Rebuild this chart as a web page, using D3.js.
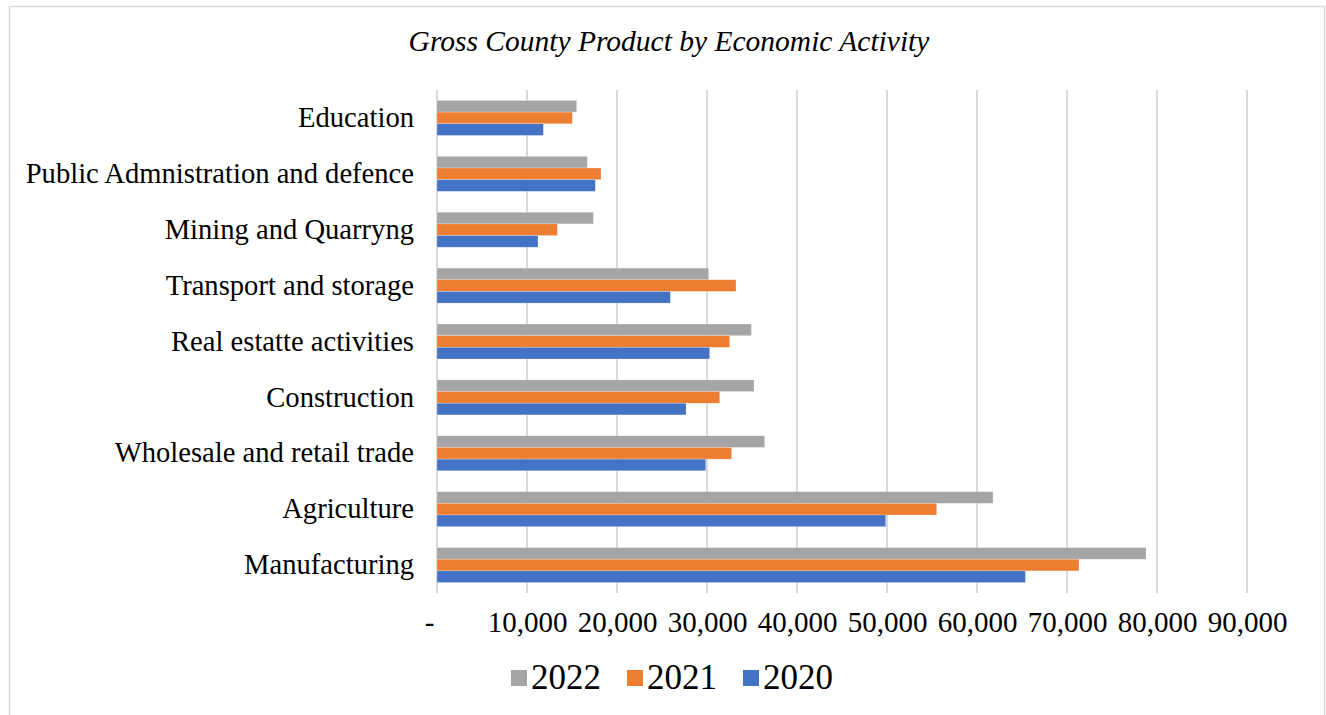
<!DOCTYPE html>
<html>
<head>
<meta charset="utf-8">
<script src="https://cdn.jsdelivr.net/npm/d3@7"></script>
<style>
    body { margin: 0; background: #fff; }
    svg { display: block; }
    text { font-family: "Liberation Serif", "DejaVu Serif", serif; fill: #000; }
</style>
</head>
<body>
<div id="chart"></div>
<script>
// categories top to bottom
var categories = ["Education", "Public Admnistration and defence", "Mining and Quarryng",
    "Transport and storage", "Real estatte activities", "Construction",
    "Wholesale and retail trade", "Agriculture", "Manufacturing"];
var years = ["2022", "2021", "2020"];
var values2022 = [15520, 16700, 17370, 30190, 34930, 35220, 36410, 61780, 78780];
var values2021 = [15040, 18220, 13370, 33220, 32520, 31410, 32740, 55520, 71330];
var values2020 = [11820, 17590, 11220, 25930, 30300, 27670, 29860, 49860, 65380];
var xTicks = [0, 10000, 20000, 30000, 40000, 50000, 60000, 70000, 80000, 90000];
var colors = {"2022": "#A5A5A5", "2021": "#ED7D31", "2020": "#4472C4"};

var seriesValues = {"2022": values2022, "2021": values2021, "2020": values2020};
var data = categories.map(function(c, i) {
    return {cat: c, vals: years.map(function(y) { return {year: y, value: seriesValues[y][i]}; })};
});

var W = 1326, H = 715;
var margin = {top: 90, left: 437, right: 79, bottom: 122};
var width = W - margin.left - margin.right,
    height = H - margin.top - margin.bottom;

var svg = d3.select("#chart")
    .append("svg")
    .attr("width", W)
    .attr("height", H);

// chart border
svg.append("rect")
    .attr("x", 9.5).attr("y", 6.5)
    .attr("width", 1315).attr("height", 720)
    .attr("fill", "none")
    .attr("stroke", "#d9d9d9")
    .attr("stroke-width", 1.5);

// title
svg.append("text")
    .attr("x", 669).attr("y", 51)
    .attr("text-anchor", "middle")
    .style("font-style", "italic")
    .style("font-size", "29.5px")
    .text("Gross County Product by Economic Activity");

var g = svg.append("g")
    .attr("transform", "translate(" + margin.left + "," + margin.top + ")");

var x = d3.scaleLinear()
    .domain([0, 90000])
    .range([0, width]);

var y = d3.scaleBand()
    .domain(categories)
    .range([0, height])
    .paddingInner(0.374)
    .paddingOuter(0.187);

var ySub = d3.scaleBand()
    .domain(years)
    .range([0, y.bandwidth()]);

// gridlines
g.selectAll(".grid")
    .data(xTicks)
    .enter()
    .append("line")
    .attr("x1", function(d) { return x(d); })
    .attr("x2", function(d) { return x(d); })
    .attr("y1", 0)
    .attr("y2", height)
    .attr("stroke", "#d9d9d9")
    .attr("stroke-width", 2);

// bars
var groups = g.selectAll(".grp")
    .data(data)
    .enter()
    .append("g")
    .attr("transform", function(d) { return "translate(0," + y(d.cat) + ")"; });

groups.selectAll("rect")
    .data(function(d) { return d.vals; })
    .enter()
    .append("rect")
    .attr("x", x(0))
    .attr("y", function(d) { return ySub(d.year); })
    .attr("width", function(d) { return x(d.value) - x(0); })
    .attr("height", ySub.bandwidth())
    .attr("fill", function(d) { return colors[d.year]; })
    .attr("stroke", "#fff")
    .attr("stroke-opacity", 0.4)
    .attr("stroke-width", 0.6);

// category axis
var yAxis = g.append("g")
    .call(d3.axisLeft(y).tickSize(0).tickPadding(23));
yAxis.select(".domain").remove();
yAxis.selectAll("text")
    .style("font-family", "Liberation Serif, serif")
    .style("font-size", "28.6px")
    .attr("fill", "#000");

// value axis
var xAxis = g.append("g")
    .attr("transform", "translate(0," + height + ")")
    .call(d3.axisBottom(x)
        .tickValues(xTicks)
        .tickSize(0)
        .tickPadding(18)
        .tickFormat(function(d) { return d === 0 ? "-" : d3.format(",")(d); }));
xAxis.select(".domain").remove();
xAxis.selectAll("text")
    .style("font-family", "Liberation Serif, serif")
    .style("font-size", "29px")
    .attr("fill", "#000")
    .attr("dx", function(d) { return d === 0 ? -8 : 0; });

// legend
var legendX = [511, 627, 743];
var legend = svg.append("g");
var items = legend.selectAll(".item")
    .data(years)
    .enter()
    .append("g")
    .attr("transform", function(d, i) { return "translate(" + legendX[i] + ",670)"; });
items.append("rect")
    .attr("width", 16).attr("height", 16)
    .attr("fill", function(d) { return colors[d]; });
items.append("text")
    .attr("x", 20).attr("y", 19)
    .style("font-size", "35px")
    .text(function(d) { return d; });
</script>
</body>
</html>
